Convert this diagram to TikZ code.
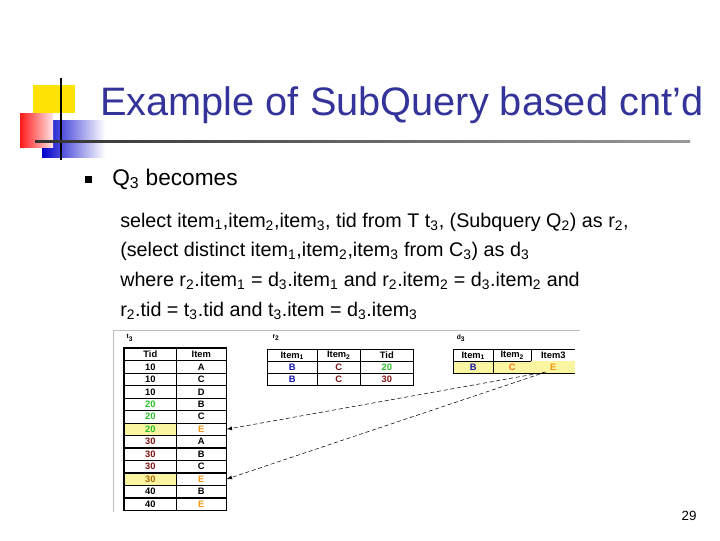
\documentclass[tikz,border=0pt]{standalone}
\usepackage{fontspec}
\setmainfont{Liberation Sans}
\begin{document}
\begin{tikzpicture}[x=0.75pt,y=-0.75pt,
  cell/.style={draw=black,line width=0.5pt,minimum height=9.2pt,inner sep=0pt,font=\fontsize{7}{7}\selectfont\bfseries,anchor=north west},
  body/.style={anchor=west,inner sep=0pt,font=\fontsize{14.8}{16}\selectfont},
  tiny/.style={font=\fontsize{5}{6}\selectfont\bfseries,inner sep=0pt}]
\useasboundingbox (0,0) rectangle (720,540);
\definecolor{tcol}{RGB}{51,51,153}
\definecolor{gr}{RGB}{40,190,40}
\definecolor{dr}{RGB}{130,20,20}
\definecolor{og}{RGB}{240,150,20}
\definecolor{bl}{RGB}{20,20,170}
\definecolor{hl}{RGB}{250,245,160}
% logo
\fill[yellow!85!orange] (33,85) rectangle (75,113);
\shade[left color=blue!80!black,right color=white] (42,120) rectangle (105,157);
\shade[left color=red!90,right color=red!10] (20,113) rectangle (53,147);
\draw[line width=2pt] (61,78) -- (61,160);
\shade[left color=black!80,right color=black!40] (35,140) rectangle (690,142.5);
\node[anchor=west,text=tcol,font=\fontsize{29.8}{31}\selectfont,inner sep=0pt] (title) at (100,105) {Example of SubQuery based cnt’d};
% bullet
\fill (85,176) rectangle (92,183);
\node[body,font=\fontsize{17}{18}\selectfont] (q) at (112,179) {Q\textsubscript{3} becomes};
\node[body] (l1) at (120,222) {select item\textsubscript{1},item\textsubscript{2},item\textsubscript{3}, tid from T t\textsubscript{3}, (Subquery Q\textsubscript{2}) as r\textsubscript{2},};
\node[body] (l2) at (120,251) {(select distinct item\textsubscript{1},item\textsubscript{2},item\textsubscript{3} from C\textsubscript{3}) as d\textsubscript{3}};
\node[body] (l3) at (120,281) {where r\textsubscript{2}.item\textsubscript{1} = d\textsubscript{3}.item\textsubscript{1} and r\textsubscript{2}.item\textsubscript{2} = d\textsubscript{3}.item\textsubscript{2} and};
\node[body] (l4) at (120,311) {r\textsubscript{2}.tid = t\textsubscript{3}.tid and t\textsubscript{3}.item = d\textsubscript{3}.item\textsubscript{3}};
% image frame
\draw[black!25] (113,512) -- (113,330) -- (580,330);
\node[tiny] (lt) at (130,338) {t\textsubscript{3}};
\node[tiny] (lr) at (276,338) {r\textsubscript{2}};
\node[tiny] (ld) at (461,338) {d\textsubscript{3}};
% t3
\def\rh{12.46}
\node[cell,minimum width=39pt] (th1) at (124,348) {Tid};
\node[cell,minimum width=37.5pt] (th2) at (176,348) {Item};
\foreach \t/\i/\tc/\ic/\f [count=\k] in {10/A/black/black/white,10/C/black/black/white,10/D/black/black/white,20/B/gr/black/white,20/C/gr/black/white,20/E/gr/og/hl,30/A/dr/black/white,30/B/dr/black/white,30/C/dr/black/white,30/E/og!70!black/og/hl,40/B/black/black/white,40/E/black/og/white}{
  \node[cell,minimum width=39pt,fill=\f,text=\tc] (ta\k) at (124,348+\k*\rh) {\t};
  \node[cell,minimum width=37.5pt,text=\ic] (tb\k) at (176,348+\k*\rh) {\i};
}
\draw[line width=1pt] (th1.north west) rectangle (tb12.south east);
% r2
\node[cell,minimum width=37.5pt] (rh1) at (267,349) {Item\textsubscript{1}};
\node[cell,minimum width=32.25pt] (rh2) at (317,349) {Item\textsubscript{2}};
\node[cell,minimum width=39.75pt] (rh3) at (360,349) {Tid};
\foreach \c/\y [count=\k] in {gr/361,dr/373}{
  \node[cell,minimum width=37.5pt,text=bl] (ra\k) at (267,\y) {B};
  \node[cell,minimum width=32.25pt,text=dr] (rb\k) at (317,\y) {C};
  \node[cell,minimum width=39.75pt,text=\c] (rc\k) at (360,\y) {\ifnum\k=1 20\else 30\fi};
}
% d3
\node[cell,minimum width=30pt] (dh1) at (453,349) {Item\textsubscript{1}};
\node[cell,minimum width=28.5pt] (dh2) at (493,349) {Item\textsubscript{2}};
\node[cell,minimum width=33pt,draw=none] (dh3) at (531,349) {Item3};
\draw (575,349) -- (531,349);
\node[cell,minimum width=30pt,fill=hl,text=bl] (da) at (453,361) {B};
\node[cell,minimum width=28.5pt,fill=hl,text=og!80!red] (db) at (493,361) {C};
\node[cell,minimum width=33pt,fill=hl,draw=none,text=og] (dc) at (531,361) {E};
\draw (531,373) -- (575,373);
\coordinate (s1) at (546,372);
\coordinate (s2) at (540,374);
\draw[densely dashed,-latex] (s1) -- (tb6.east);
\draw[densely dashed,-latex] (s2) -- (tb10.east);
\node[font=\fontsize{10}{12}\selectfont,inner sep=0pt] (pg) at (689,516) {29};
\end{tikzpicture}
\end{document}
